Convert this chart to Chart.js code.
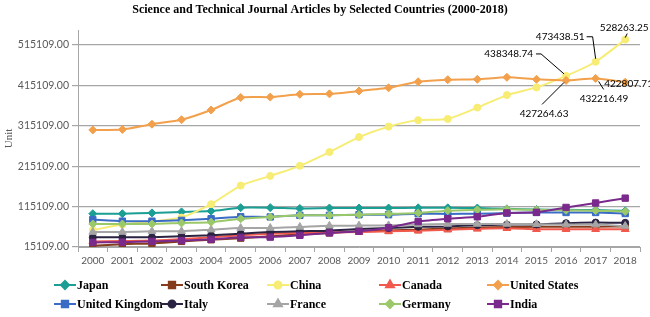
<!DOCTYPE html>
<html>
<head>
<meta charset="utf-8">
<script src="https://cdn.jsdelivr.net/npm/chart.js@4.4.1/dist/chart.umd.min.js"></script>
<style>
html, body { margin: 0; padding: 0; background: #fff; }
#wrap { width: 650px; height: 317px; }
</style>
</head>
<body>
<div id="wrap"><canvas id="articles_chart_area" width="650" height="317"></canvas></div>
<script>
"use strict"
// Science and technical journal articles, 2000-2018
var years = ["2000", "2001", "2002", "2003", "2004", "2005", "2006", "2007", "2008", "2009",
             "2010", "2011", "2012", "2013", "2014", "2015", "2016", "2017", "2018"];
var yTickValues = [15109, 115109, 215109, 315109, 415109, 515109];

var japan       = [97500, 97500, 99500, 102000, 104000, 112500, 112500, 110500, 111500, 111500, 111500, 112000, 112000, 111500, 109500, 108000, 107000, 106500, 104500];
var southKorea  = [18000, 22000, 24000, 29000, 33000, 37000, 42000, 46000, 50000, 54000, 56000, 58000, 61000, 63500, 64500, 65000, 65500, 65500, 66000];
var china       = [57000, 71000, 78000, 88000, 121000, 167000, 191000, 216000, 250000, 287000, 313000, 329000, 332000, 360000, 391000, 410000, 438348.74, 473438.51, 528263.25];
var canada      = [29000, 30000, 31000, 35000, 39000, 44000, 48000, 50000, 51000, 52000, 54000, 55500, 58000, 60000, 61500, 59000, 59000, 59000, 59000];
var unitedStates = [304700, 306000, 319000, 330000, 354000, 385000, 386000, 393000, 394000, 401000, 409000, 424000, 429000, 430000, 435000, 430000, 427264.63, 432216.49, 422807.71];
var unitedKingdom = [83000, 79000, 79000, 81000, 85000, 90000, 89500, 93500, 93500, 95000, 95000, 97500, 97000, 97500, 99000, 100500, 100500, 100500, 98000];
var italy       = [39000, 39000, 39500, 42000, 44000, 48000, 52000, 54000, 55500, 59500, 62000, 65000, 66000, 69000, 70500, 71000, 74000, 75500, 75000];
var france      = [52000, 52000, 54000, 54000, 58000, 62000, 62000, 64500, 67500, 68000, 68500, 71000, 72000, 72000, 72000, 71500, 70500, 70500, 67000];
var germany     = [72000, 72000, 72000, 74500, 76500, 85000, 89500, 93500, 93500, 95000, 97000, 99500, 105000, 107000, 108500, 107000, 106000, 105000, 103000];
var india       = [26500, 27000, 29000, 31000, 34000, 39000, 39500, 44000, 50000, 54000, 63000, 78000, 85000, 90000, 99500, 101000, 113000, 124000, 136000];

var series = [
    { label: "Japan",          data: japan,         color: "#1b9e94", point: "rectRot",  r: 4 },
    { label: "South Korea",    data: southKorea,    color: "#843c1c", point: "rect",     r: 4.5 },
    { label: "China",          data: china,         color: "#f7ec74", point: "circle",   r: 3.5 },
    { label: "Canada",         data: canada,        color: "#f0594c", point: "triangle", r: 4.5 },
    { label: "United States",  data: unitedStates,  color: "#f2a04c", point: "rectRot",  r: 4 },
    { label: "United Kingdom", data: unitedKingdom, color: "#3a6cc6", point: "rect",     r: 4.5 },
    { label: "Italy",          data: italy,         color: "#2b2342", point: "circle",   r: 3.5 },
    { label: "France",         data: france,        color: "#a5a5a5", point: "triangle", r: 4.5 },
    { label: "Germany",        data: germany,       color: "#9bc96a", point: "rectRot",  r: 4 },
    { label: "India",          data: india,         color: "#7a2a8c", point: "rect",     r: 4.5 }
];

// value labels with leader lines (series index, year index, text offset, leader path)
var callouts = [
    { ds: 2, i: 18, dx: -1,  dy: -12, align: "center", path: [[2, -6], [0, -2]] },
    { ds: 2, i: 17, dx: -11, dy: -25, align: "right",  path: [[-9, -25], [-3, -25], [0, -3]] },
    { ds: 2, i: 16, dx: -33, dy: -22, align: "right",  path: [[-30, -22], [-25, -22], [-2, -2]] },
    { ds: 4, i: 16, dx: -22, dy: 33,  align: "center", path: [[-24, 24], [-2, 2]] },
    { ds: 4, i: 17, dx: -16, dy: 20,  align: "left",   path: [[3, 3], [8, 11]] },
    { ds: 4, i: 18, dx: -21, dy: 2,   align: "left",   path: [] }
];

var gridLegend = {
    id: "gridLegend",
    afterDraw: function(chart){
        var ctx = chart.ctx;
        var cols = [54, 161, 267, 379, 487];
        var rows = [285, 304];
        ctx.save();
        ctx.font = "bold 12px 'Liberation Serif', 'Times New Roman', serif";
        ctx.textBaseline = "middle";
        ctx.textAlign = "left";
        series.forEach(function(s, k){
            var x = cols[k % 5], y = rows[Math.floor(k / 5)];
            ctx.strokeStyle = s.color;
            ctx.fillStyle = s.color;
            ctx.lineWidth = 2;
            ctx.beginPath();
            ctx.moveTo(x, y);
            ctx.lineTo(x + 22, y);
            ctx.stroke();
            Chart.helpers.drawPoint(ctx, { pointStyle: s.point, rotation: 0, radius: s.r, borderWidth: 1 }, x + 11, y);
            ctx.fillStyle = "#000";
            ctx.fillText(s.label, x + 23, y + 1);
        });
        ctx.restore();
    }
};

var valueLabels = {
    id: "valueLabels",
    afterDatasetsDraw: function(chart){
        var ctx = chart.ctx;
        ctx.save();
        ctx.font = "10px Lato, sans-serif";
        ctx.textBaseline = "middle";
        ctx.strokeStyle = "#000";
        ctx.lineWidth = 1;
        callouts.forEach(function(c){
            var pt = chart.getDatasetMeta(c.ds).data[c.i];
            var v = series[c.ds].data[c.i];
            if (c.path.length){
                ctx.beginPath();
                c.path.forEach(function(p, n){
                    if (n === 0) ctx.moveTo(pt.x + p[0], pt.y + p[1]);
                    else ctx.lineTo(pt.x + p[0], pt.y + p[1]);
                });
                ctx.stroke();
            }
            ctx.textAlign = c.align;
            ctx.fillStyle = "#000";
            ctx.fillText(v.toFixed(2), pt.x + c.dx, pt.y + c.dy);
        });
        ctx.restore();
    }
};

var articlesChartArea = document.getElementById("articles_chart_area");
var articlesLineChart = new Chart(articlesChartArea, {
    type: 'line',
    data: {
        labels: years,
        datasets: series.map(function(s, k){
            return {
                label: s.label,
                data: s.data,
                fill: false,
                tension: 0.2,
                borderColor: s.color,
                backgroundColor: s.color,
                borderWidth: 2,
                pointStyle: s.point,
                pointRadius: s.r,
                pointBorderColor: s.color,
                pointBackgroundColor: s.color,
                pointBorderWidth: 1,
                order: series.length - k
            };
        })
    },
    options: {
        responsive: false,
        devicePixelRatio: 1,
        animation: false,
        layout: { padding: { top: 0, right: 10, bottom: 0, left: 0 } },
        plugins: {
            legend: { display: false },
            tooltip: { enabled: false },
            title: {
                display: true,
                text: "Science and Technical Journal Articles by Selected Countries (2000-2018)",
                color: "#000",
                font: { family: "'Liberation Serif', 'Times New Roman', serif", size: 12, weight: "bold" },
                padding: { top: 3, bottom: 12.6 }
            }
        },
        scales: {
            x: {
                offset: true,
                grid: { offset: true, drawOnChartArea: false, drawTicks: true, tickLength: 5, color: "#a6a6a6" },
                border: { color: "#a6a6a6", width: 1 },
                ticks: { color: "#595959", font: { family: "Lato", size: 10 }, padding: 3, maxRotation: 0, autoSkip: false },
                afterFit: function(scale){ scale.height = 70; }
            },
            y: {
                min: 15109,
                max: 552000,
                afterBuildTicks: function(scale){
                    scale.ticks = yTickValues.map(function(v){ return { value: v }; });
                },
                grid: { color: "#a6a6a6", lineWidth: 1.2, tickLength: 6 },
                border: { color: "#a6a6a6", width: 1 },
                ticks: {
                    color: "#595959",
                    font: { family: "Lato", size: 10.5 },
                    padding: 3,
                    callback: function(v){ return Number(v).toFixed(2); }
                },
                title: {
                    display: true,
                    text: "Unit",
                    color: "#595959",
                    font: { family: "'Liberation Serif', serif", size: 11 },
                    padding: { top: 3, bottom: 0 }
                },
                afterFit: function(scale){ scale.width = 78; }
            }
        }
    },
    plugins: [gridLegend, valueLabels]
});
</script>
</body>
</html>
